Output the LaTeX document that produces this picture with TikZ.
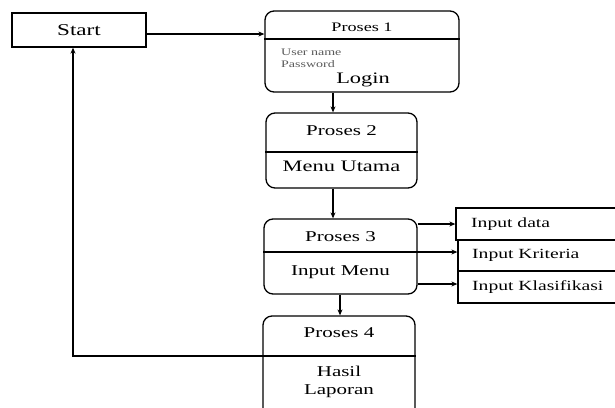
\documentclass[tikz,border=0pt]{standalone}
\usepackage{fontspec}
\setmainfont{Liberation Serif}[FakeStretch=1.4]
\usetikzlibrary{arrows.meta,calc}
\begin{document}
\begin{tikzpicture}[x=1pt,y=-1pt,
  box/.style={draw,line width=1.3pt,minimum width=#1,inner sep=0pt},
  rbox/.style={draw,line width=1.3pt,rounded corners=9pt,inner sep=0pt},
  arr/.style={line width=1.2pt,-{Stealth[length=6pt,width=5pt]}},
  lbl/.style={inner sep=0pt,font=\fontsize{15}{17}\selectfont},
  big/.style={inner sep=0pt,font=\fontsize{16}{18}\selectfont},
  sml/.style={inner sep=0pt,font=\fontsize{14}{16}\selectfont},
  tiny/.style={inner sep=0pt,font=\fontsize{10}{12}\selectfont,text=black!65,align=left}]
\useasboundingbox (0,0) rectangle (615,407);
\clip (0,0) rectangle (615,407);
% boxes
\node[box=134pt,minimum height=34pt] (start) at (79,30) {};
\node[rbox,minimum width=194pt,minimum height=81pt] (p1) at (362,51.5) {};
\node[rbox,minimum width=151pt,minimum height=75pt] (p2) at (341.5,150.5) {};
\node[rbox,minimum width=153pt,minimum height=75pt] (p3) at (340.5,256.5) {};
\node[rbox,minimum width=152pt,minimum height=104pt] (p4) at (339,368) {};
\node[box=170pt,minimum height=32pt] (i1) at (541,224) {};
\node[box=168pt,minimum height=31pt] (i2) at (542,255.5) {};
\node[box=168pt,minimum height=32pt] (i3) at (542,287) {};
% dividers
\coordinate (d1) at (0,39);
\coordinate (d2) at (0,152);
\coordinate (d3) at (0,252);
\coordinate (d4) at (0,356);
\draw[line width=1.3pt] (p1.west |- d1) -- (p1.east |- d1);
\draw[line width=1.3pt] (p2.west |- d2) -- (p2.east |- d2);
\draw[line width=1.3pt] (p3.west |- d3) -- (p3.east |- d3);
\draw[line width=1.3pt] (p4.west |- d4) -- (p4.east |- d4);
% texts
\node[inner sep=0pt,font=\fontsize{16.5}{18}\selectfont] (tstart) at (79,30) {Start};
\node[inner sep=0pt,font=\fontsize{13}{15}\selectfont] (t1) at (362,27) {Proses 1};
\node[tiny,anchor=west] (tu) at (281,52) {User name};
\node[tiny,anchor=west] (tp) at (281,64) {Password};
\node[big] (tl) at (363,80) {Login};
\node[lbl] (t2) at (341.5,131) {Proses 2};
\node[big] (tm) at (341.5,166) {Menu Utama};
\node[lbl] (t3) at (340.5,237) {Proses 3};
\node[lbl] (tim) at (340.5,272) {Input Menu};
\node[lbl] (t4) at (339,333) {Proses 4};
\node[lbl] (th) at (339,371) {Hasil};
\node[lbl] (tlap) at (339,391) {Laporan};
\node[sml,anchor=west] (ti1) at (471,224) {Input data};
\node[sml,anchor=west] (ti2) at (472,255.5) {Input Kriteria};
\node[sml,anchor=west] (ti3) at (472,287) {Input Klasifikasi};
% connectors
\draw[arr] ([yshift=-4pt]start.east) -- ([yshift=-4pt]start.east -| p1.west);
\draw[arr] (p1.south -| 333,0) -- (p2.north -| 333,0);
\draw[arr] (p2.south -| 333,0) -- (p3.north -| 333,0);
\draw[arr] (p3.south -| 340,0) -- (p4.north -| 340,0);
\draw[arr] (p3.east |- i1) -- (i1.west);
\draw[arr] (p3.east |- d3) -- (i2.west |- d3);
\draw[arr] (p3.east |- 0,284) -- (i3.west |- 0,284);
\draw[arr] (p4.west |- d4) -| ([xshift=-6pt]start.south);
\end{tikzpicture}
\end{document}
